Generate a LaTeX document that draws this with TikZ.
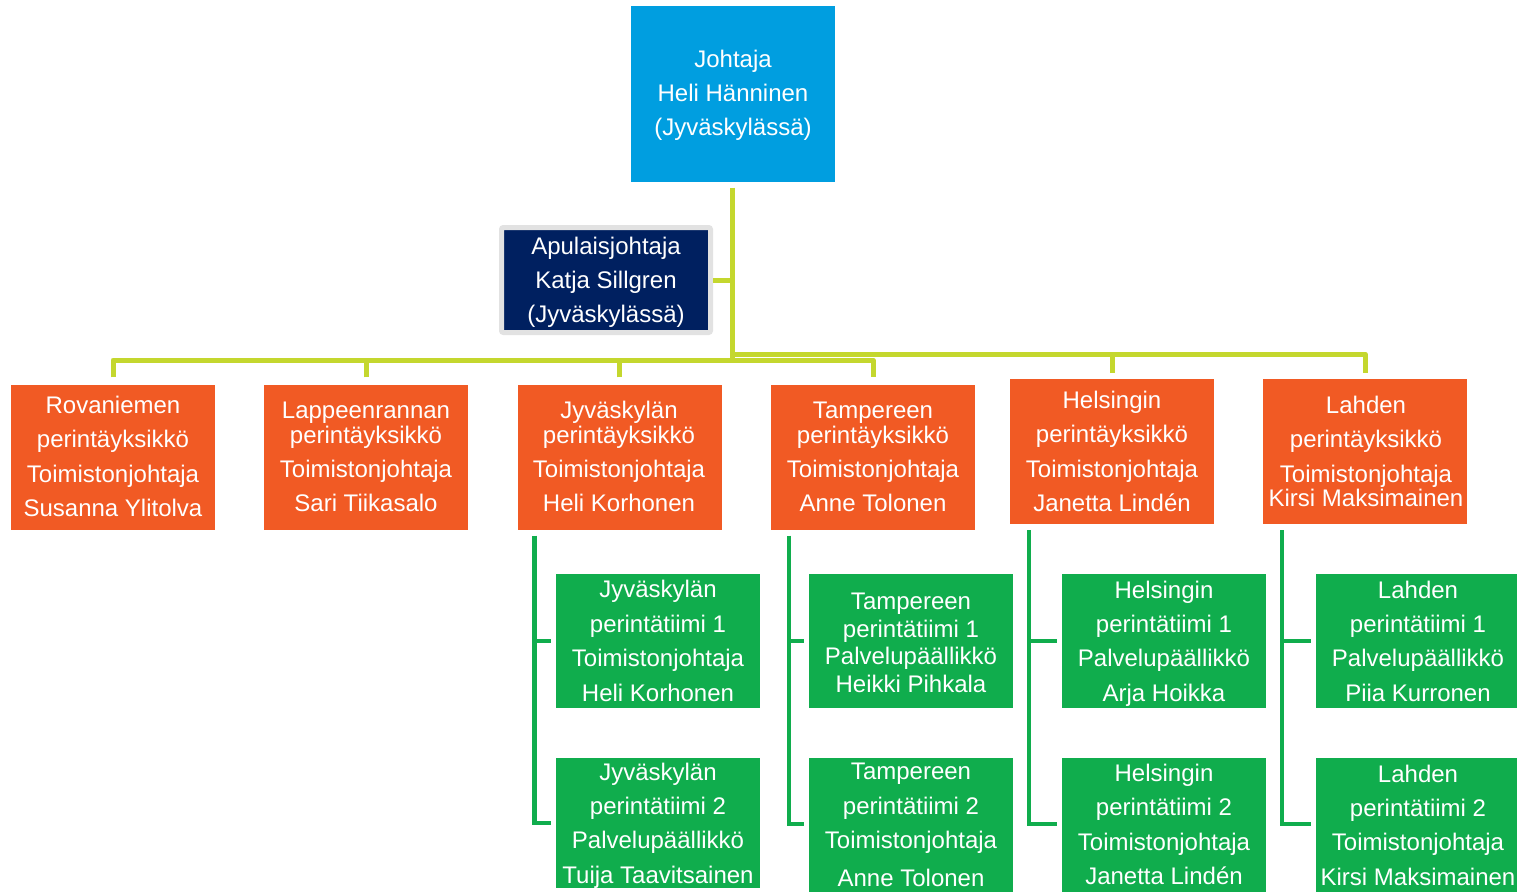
\documentclass[tikz,border=0pt]{standalone}
\usepackage{fontspec}
\setmainfont{Liberation Sans}
\definecolor{cblue}{RGB}{0,158,224}
\definecolor{cnavy}{RGB}{0,32,96}
\definecolor{corange}{RGB}{241,90,36}
\definecolor{cgreen}{RGB}{16,173,77}
\definecolor{clime}{RGB}{196,215,46}
\definecolor{cgray}{RGB}{226,226,226}
\newcommand\tlines[3]{\foreach \t/\yy [count=\i] in {#3} {\node[lbl] (#1-\i) at (#2,\yy+8.5) {\t};}}
\begin{document}
\begin{tikzpicture}[x=1pt,y=-1pt,
  box/.style={rectangle,inner sep=0pt,draw=none,minimum width=204pt},
  obox/.style={box,fill=corange,minimum height=145pt},
  gbox/.style={box,fill=cgreen,minimum height=134pt},
  lbl/.style={anchor=base,inner sep=0pt,text=white,font=\fontsize{24}{29}\selectfont},
  limeline/.style={draw=clime,line width=5pt,line join=round},
  greenline/.style={draw=cgreen,line width=4.5pt,line join=miter}]
\useasboundingbox (0,0) rectangle (1517,891);
\fill[white] (0,0) rectangle (1517,891);
% top
\node[box,fill=cblue,minimum width=204pt,minimum height=175pt] (top) at (732.5,94) {};
\tlines{top}{733}{Johtaja/59,Heli Hänninen/93,{(Jyväskylässä)}/127}
% deputy
\node[rectangle,inner sep=0pt,fill=cnavy,draw=cgray,line width=5pt,rounded corners=2pt,minimum width=209pt,minimum height=105pt] (apu) at (606,280) {};
\tlines{apu}{606}{Apulaisjohtaja/246,Katja Sillgren/280,{(Jyväskylässä)}/314}
% orange units
\node[obox] (rov) at (113,457) {};
\node[obox] (lap) at (366,457) {};
\node[obox] (jyv) at (619.5,457) {};
\node[obox] (tam) at (873,457) {};
\node[obox] (hel) at (1112,451.5) {};
\node[obox] (lah) at (1365,451.5) {};
\tlines{rov}{113}{Rovaniemen/405,perintäyksikkö/439,Toimistonjohtaja/474,Susanna Ylitolva/508}
\tlines{lap}{366}{Lappeenrannan/410,perintäyksikkö/435,Toimistonjohtaja/469,Sari Tiikasalo/503}
\tlines{jyv}{619}{Jyväskylän/410,perintäyksikkö/435,Toimistonjohtaja/469,Heli Korhonen/503}
\tlines{tam}{873}{Tampereen/410,perintäyksikkö/435,Toimistonjohtaja/469,Anne Tolonen/503}
\tlines{hel}{1112}{Helsingin/400,perintäyksikkö/434,Toimistonjohtaja/469,Janetta Lindén/503}
\tlines{lah}{1366}{Lahden/405,perintäyksikkö/439,Toimistonjohtaja/474,Kirsi Maksimainen/498}
% green teams
\node[gbox] (j1) at (658,641) {};
\node[gbox,minimum height=130pt] (j2) at (658,823) {};
\node[gbox] (t1) at (911,641) {};
\node[gbox] (t2) at (911,825) {};
\node[gbox] (h1) at (1164,641) {};
\node[gbox] (h2) at (1164,825) {};
\node[gbox,minimum width=201pt] (l1) at (1416.5,641) {};
\node[gbox,minimum width=201pt] (l2) at (1416.5,825) {};
\tlines{j1}{658}{Jyväskylän/589,perintätiimi 1/624,Toimistonjohtaja/658,Heli Korhonen/693}
\tlines{j2}{658}{Jyväskylän/772,perintätiimi 2/806,Palvelupäällikkö/840,Tuija Taavitsainen/875}
\tlines{t1}{911}{Tampereen/601,perintätiimi 1/629,Palvelupäällikkö/656,Heikki Pihkala/684}
\tlines{t2}{911}{Tampereen/771,perintätiimi 2/806,Toimistonjohtaja/840,Anne Tolonen/878}
\tlines{h1}{1164}{Helsingin/590,perintätiimi 1/624,Palvelupäällikkö/658,Arja Hoikka/693}
\tlines{h2}{1164}{Helsingin/773,perintätiimi 2/807,Toimistonjohtaja/842,Janetta Lindén/876}
\tlines{l1}{1418}{Lahden/590,perintätiimi 1/624,Palvelupäällikkö/658,Piia Kurronen/693}
\tlines{l2}{1418}{Lahden/774,perintätiimi 2/808,Toimistonjohtaja/842,Kirsi Maksimainen/877}
% lime connectors
\coordinate (busL) at (733,360);
\coordinate (busR) at (733,354);
\draw[limeline] ([yshift=-6pt]top.south) -- (top.south |- busL);
\draw[limeline] (apu.east) -- (apu.east -| top.south);
\draw[limeline] ([yshift=7pt]rov.north) -- (rov.north |- busL) -- (tam.north |- busL) -- ([yshift=7pt]tam.north);
\draw[limeline] ([yshift=7pt]lap.north) -- (lap.north |- busL);
\draw[limeline] ([yshift=7pt]jyv.north) -- (jyv.north |- busL);
\draw[limeline] (busR) -- (lah.north |- busR) -- ([yshift=6pt]lah.north);
\draw[limeline] ([yshift=6pt]hel.north) -- (hel.north |- busR);
% green connectors
\coordinate (jr) at ([xshift=17pt,yshift=-6pt]jyv.south west);
\coordinate (tr) at ([xshift=18pt,yshift=-6pt]tam.south west);
\coordinate (hr) at ([xshift=19pt,yshift=-6pt]hel.south west);
\coordinate (lr) at ([xshift=19pt,yshift=-6pt]lah.south west);
\draw[greenline] (jr) |- ([xshift=-5pt]j2.west);
\draw[greenline] (jr |- j1.west) -- ([xshift=-5pt]j1.west);
\draw[greenline] (tr) |- ([xshift=-5pt,yshift=1pt]t2.west);
\draw[greenline] (tr |- t1.west) -- ([xshift=-5pt]t1.west);
\draw[greenline] (hr) |- ([xshift=-5pt,yshift=1pt]h2.west);
\draw[greenline] (hr |- h1.west) -- ([xshift=-5pt]h1.west);
\draw[greenline] (lr) |- ([xshift=-5pt,yshift=1pt]l2.west);
\draw[greenline] (lr |- l1.west) -- ([xshift=-5pt]l1.west);
\end{tikzpicture}
\end{document}
